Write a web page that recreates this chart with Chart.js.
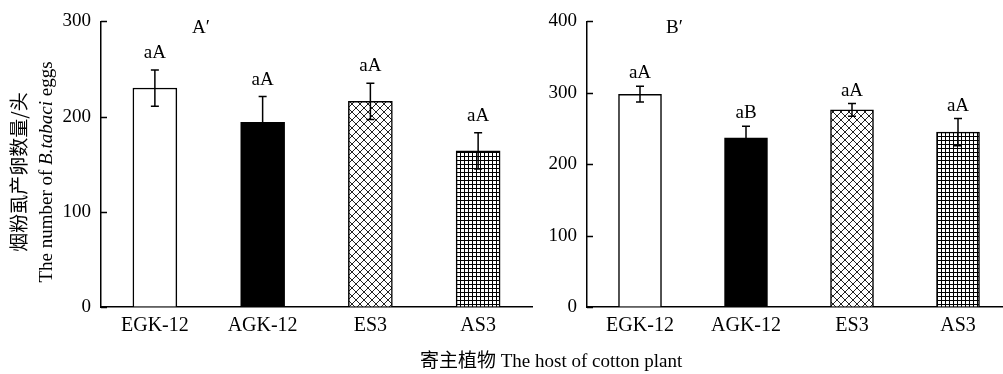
<!DOCTYPE html>
<html lang="zh">
<head>
  <meta charset="UTF-8" />
  <title>烟粉虱产卵数量</title>
  <script src="https://cdn.jsdelivr.net/npm/chart.js"></script>
  <style>
    html, body { margin: 0; padding: 0; background: #fff; overflow: hidden; width: 1003px; height: 374px; }
    #wrap { position: relative; width: 1003px; height: 374px; }
    canvas { position: absolute; top: 0; }
    #chartA { left: 0; }
    #chartB { left: 545px; }
    #xTitle { position: absolute; left: 420px; top: 345px; font: 19px "Liberation Serif", "Noto Sans CJK SC", serif; white-space: nowrap; color: #000; }
  </style>
</head>
<body>
  <div id="wrap">
    <canvas id="chartA" width="545" height="374"></canvas>
    <canvas id="chartB" width="475" height="374"></canvas>
    <div id="xTitle">寄主植物 The host of cotton plant</div>
  </div>

  <script>
    // data
    const categories = ["EGK-12", "AGK-12", "ES3", "AS3"];

    const eggsA = [230, 194, 216, 164];
    const errA = [19, 27, 19, 19];
    const lettersA = ["aA", "aA", "aA", "aA"];

    const eggsB = [298, 237, 276, 245];
    const errB = [11, 16, 9, 19];
    const lettersB = ["aA", "aB", "aA", "aA"];

    const yMaxA = 300;
    const yMaxB = 400;
    const yStep = 100;

    const serif = '"Liberation Serif", "Times New Roman", serif';

    function makePattern(kind) {
      const c = document.createElement("canvas");
      const g = c.getContext("2d");
      if (kind === "cross") {
        c.width = 8; c.height = 8;
        g.fillStyle = "#fff"; g.fillRect(0, 0, 8, 8);
        g.strokeStyle = "#222"; g.lineWidth = 1;
        g.beginPath();
        g.moveTo(-1, -1); g.lineTo(9, 9);
        g.moveTo(9, -1); g.lineTo(-1, 9);
        g.stroke();
      } else {
        c.width = 4; c.height = 4;
        g.fillStyle = "#fff"; g.fillRect(0, 0, 4, 4);
        g.fillStyle = "#000";
        g.fillRect(0, 0, 4, 1);
        g.fillRect(0, 0, 1, 4);
      }
      return g.createPattern(c, "repeat");
    }

    // error bars, letters, inward ticks, panel label
    function extras(errs, letters, panel, panelX, letterGap, drawYTitle) {
      return {
        id: "extras",
        afterDatasetsDraw(chart) {
          const ctx = chart.ctx;
          const y = chart.scales.y;
          const meta = chart.getDatasetMeta(0);
          const vals = chart.data.datasets[0].data;
          ctx.save();
          ctx.strokeStyle = "#000";
          ctx.lineWidth = 1.5;
          ctx.fillStyle = "#000";
          ctx.font = "19px " + serif;
          ctx.textAlign = "center";
          ctx.textBaseline = "alphabetic";
          meta.data.forEach((bar, i) => {
            const top = y.getPixelForValue(vals[i] + errs[i]);
            const bot = y.getPixelForValue(vals[i] - errs[i]);
            ctx.beginPath();
            ctx.moveTo(bar.x, top); ctx.lineTo(bar.x, bot);
            ctx.moveTo(bar.x - 4, top); ctx.lineTo(bar.x + 4, top);
            ctx.moveTo(bar.x - 4, bot); ctx.lineTo(bar.x + 4, bot);
            ctx.stroke();
            ctx.fillText(letters[i], bar.x, top - letterGap);
          });

          // ticks point into the plot
          ctx.beginPath();
          y.ticks.forEach(t => {
            const py = Math.round(y.getPixelForValue(t.value)) + 0.5;
            ctx.moveTo(y.right, py);
            ctx.lineTo(y.right + 6, py);
          });
          ctx.stroke();

          ctx.textAlign = "left";
          ctx.fillText(panel, panelX, 33);

          if (drawYTitle) {
            ctx.translate(0, 172);
            ctx.rotate(-Math.PI / 2);
            ctx.textAlign = "center";
            ctx.font = '19px "Noto Sans CJK SC", serif';
            ctx.fillText("烟粉虱产卵数量/头", 0, 26);
            // English line with italic species name
            const parts = [["The number of ", "19px " + serif], ["B.tabaci", "italic 19px " + serif], [" eggs", "19px " + serif]];
            let total = 0;
            parts.forEach(p => { ctx.font = p[1]; total += ctx.measureText(p[0]).width; });
            let x = -total / 2;
            ctx.textAlign = "left";
            parts.forEach(p => {
              ctx.font = p[1];
              ctx.fillText(p[0], x, 52);
              x += ctx.measureText(p[0]).width;
            });
          }
          ctx.restore();
        }
      };
    }

    function buildChart(id, values, errs, letters, yMax, yWidth, padRight, barW, panel, panelX, letterGap, top, yTitle) {
      const ctx = document.getElementById(id).getContext("2d");
      return new Chart(ctx, {
        type: "bar",
        data: {
          labels: categories,
          datasets: [{
            data: values,
            backgroundColor: ["#fff", "#000", makePattern("cross"), makePattern("grid")],
            borderColor: "#000",
            borderWidth: 1.5,
            borderSkipped: "bottom",
            barThickness: barW
          }]
        },
        options: {
          responsive: false,
          animation: false,
          devicePixelRatio: 1,
          layout: { padding: { top: top, right: padRight, left: 0, bottom: 0 } },
          plugins: { legend: { display: false }, tooltip: { enabled: false } },
          scales: {
            x: {
              grid: { display: false, drawTicks: false },
              border: { display: true, color: "#000", width: 1.5 },
              ticks: { color: "#000", font: { family: serif, size: 20 }, padding: 7 },
              afterFit(s) { s.height = 67; }
            },
            y: {
              min: 0,
              max: yMax,
              grid: { drawOnChartArea: false, drawTicks: false },
              border: { display: true, color: "#000", width: 1.5 },
              ticks: { stepSize: yStep, color: "#000", font: { family: serif, size: 19 }, padding: 10 },
              afterFit(s) { s.width = yWidth; }
            }
          }
        },
        plugins: [extras(errs, letters, panel, panelX, letterGap, yTitle)]
      });
    }

    buildChart("chartA", eggsA, errA, lettersA, yMaxA, 101, 13, 44, "A\u2032", 192, 12, 20, true);
    buildChart("chartB", eggsB, errB, lettersB, yMaxB, 42, 9, 43, "B\u2032", 121, 8, 21, false);
  </script>
</body>
</html>
